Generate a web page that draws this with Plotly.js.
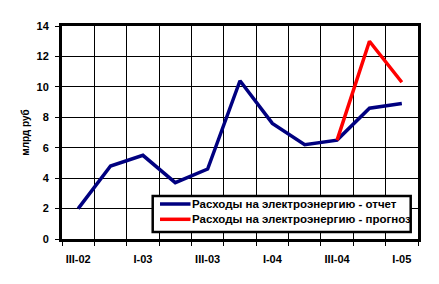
<!DOCTYPE html>
<html>
<head>
<meta charset="utf-8">
<script src="https://cdn.plot.ly/plotly-3.0.1.min.js"></script>
<style>html,body{margin:0;padding:0;background:#fff;}#chart{width:439px;height:284px;}</style>
</head>
<body>
<div id="chart"></div>
<script>
const categories = ['III-02','IV-02','I-03','II-03','III-03','IV-03','I-04','II-04','III-04','IV-04','I-05'];
const tickLabels = ['III-02','','I-03','','III-03','','I-04','','III-04','','I-05'];
const reportValues = [2.0, 4.8, 5.5, 3.7, 4.6, 10.4, 7.6, 6.2, 6.5, 8.6, 8.9];
const forecastValues = [null, null, null, null, null, null, null, null, 6.5, 13.0, 10.3];
const reportName = 'Расходы на электроэнергию - отчет';
const forecastName = 'Расходы на электроэнергию - прогноз';
const reportColor = '#000080';
const forecastColor = '#ff0000';

const font = {family: 'Liberation Sans, Arial, sans-serif', color: '#000', weight: 'bold'};
const f = (s) => Object.assign({size: s}, font);

const data = [
  {x: categories, y: reportValues, name: reportName, type: 'scatter', mode: 'lines',
   line: {color: reportColor, width: 3.5}},
  {x: categories, y: forecastValues, name: forecastName, type: 'scatter', mode: 'lines',
   line: {color: forecastColor, width: 3.5}, connectgaps: false}
];

// custom legend (paper coordinates)
const legendBox = {x0: 0.2548, x1: 0.9795, y0: 0.033, y1: 0.202};
const legendRows = [0.1643, 0.0925];
const legendLineX = [0.2753, 0.361];
const legendTextX = 0.3595;
const entries = [[reportName, reportColor], [forecastName, forecastColor]];

const shapes = [
  {type: 'rect', xref: 'paper', yref: 'paper', x0: legendBox.x0, x1: legendBox.x1,
   y0: legendBox.y0, y1: legendBox.y1, fillcolor: '#fff', line: {color: '#000', width: 2.5}, layer: 'above'}
];
const annotations = [];
entries.forEach((e, i) => {
  shapes.push({type: 'line', xref: 'paper', yref: 'paper', x0: legendLineX[0], x1: legendLineX[1],
    y0: legendRows[i], y1: legendRows[i], line: {color: e[1], width: 3.5}, layer: 'above'});
  annotations.push({xref: 'paper', yref: 'paper', x: legendTextX, y: legendRows[i],
    xanchor: 'left', yanchor: 'middle', text: e[0], showarrow: false, font: f(11.5)});
});

const layout = {
  width: 439, height: 284,
  margin: {l: 62, r: 21, t: 26, b: 45},
  paper_bgcolor: '#fff', plot_bgcolor: '#fff',
  font: f(11),
  showlegend: false,
  shapes: shapes,
  annotations: annotations,
  xaxis: {
    type: 'category', categoryorder: 'array', categoryarray: categories,
    range: [-0.5, 10.5],
    tickmode: 'array', tickvals: categories, ticktext: tickLabels,
    tickson: 'boundaries', tickangle: 0,
    ticks: 'outside', ticklen: 4, tickwidth: 1, tickcolor: '#000',
    showgrid: true, gridcolor: '#000', gridwidth: 1,
    showline: true, linecolor: '#000', linewidth: 3, mirror: true,
    tickfont: f(11), ticklabelstandoff: 8,
    zeroline: false, fixedrange: true
  },
  yaxis: {
    range: [0, 14], dtick: 2, tick0: 0,
    ticks: 'outside', ticklen: 4, tickwidth: 1, tickcolor: '#000',
    showgrid: true, gridcolor: '#000', gridwidth: 1,
    showline: true, linecolor: '#000', linewidth: 3, mirror: true,
    zeroline: false,
    tickfont: f(11), ticklabelstandoff: 4,
    title: {text: 'млрд руб', font: f(10), standoff: 6},
    fixedrange: true
  }
};

Plotly.newPlot('chart', data, layout, {staticPlot: true, displayModeBar: false});
</script>
</body>
</html>
